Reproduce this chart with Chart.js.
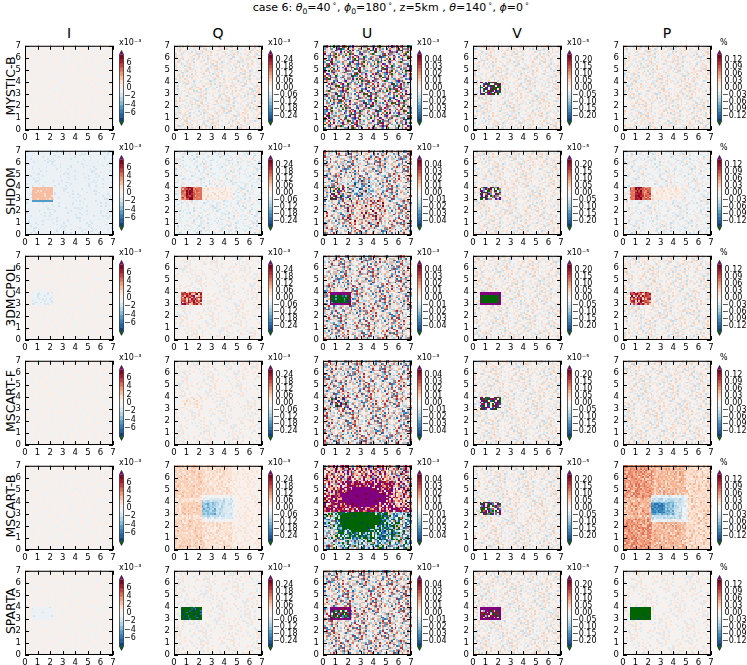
<!DOCTYPE html>
<html>
<head>
<meta charset="utf-8">
<script src="https://cdn.jsdelivr.net/npm/chart.js@4.4.0/dist/chart.umd.min.js"></script>
<style>
  body { margin: 0; background: #fff; width: 747px; height: 665px; overflow: hidden; position: relative; font-family: "DejaVu Sans", sans-serif; }
  canvas { position: absolute; }
  .lbl { position: absolute; white-space: nowrap; color: #000; }
  #title { left: 391px; top: 1px; font-size: 11px; transform: translateX(-50%); }
  #title sub, #title sup { font-size: 70%; line-height: 0; }
  .col { font-size: 14px; transform: translateX(-50%); top: 25px; }
  .row { font-size: 12.5px; transform: translate(-50%, -50%) rotate(-90deg); }
</style>
</head>
<body>
<div id="title" class="lbl">case 6: <i>θ</i><sub>0</sub>=40<sup>&thinsp;∘</sup>, <i>ϕ</i><sub>0</sub>=180<sup>&thinsp;∘</sup>, z=5km , <i>θ</i>=140<sup>&thinsp;∘</sup>, <i>ϕ</i>=0<sup>&thinsp;∘</sup></div>
<script>
// Titres
const rowNames = ['MYSTIC-B', 'SHDOM', '3DMCPOL', 'MSCART-F', 'MSCART-B', 'SPARTA'];
const colNames = ['I', 'Q', 'U', 'V', 'P'];

// Axes des panneaux (km)
const axisTicks = [0, 1, 2, 3, 4, 5, 6, 7];

// Barres de couleur : limite du corps, nombre de niveaux, graduations
const cbLimit = [8, 0.29, 0.048, 0.24, 0.145];
const cbLevels = [16, 20, 20, 20, 20];
const cbTicks = [
  [6, 4, 2, 0, -2, -4, -6],
  [0.24, 0.18, 0.12, 0.06, 0, -0.06, -0.12, -0.18, -0.24],
  [0.04, 0.03, 0.02, 0.01, 0, -0.01, -0.02, -0.03, -0.04],
  [0.2, 0.15, 0.1, 0.05, 0, -0.05, -0.1, -0.15, -0.2],
  [0.12, 0.09, 0.06, 0.03, 0, -0.03, -0.06, -0.09, -0.12]
];
const cbTickLabels = [
  ['6', '4', '2', '0', '−2', '−4', '−6'],
  ['0.24', '0.18', '0.12', '0.06', '0.00', '−0.06', '−0.12', '−0.18', '−0.24'],
  ['0.04', '0.03', '0.02', '0.01', '0.00', '−0.01', '−0.02', '−0.03', '−0.04'],
  ['0.20', '0.15', '0.10', '0.05', '0.00', '−0.05', '−0.10', '−0.15', '−0.20'],
  ['0.12', '0.09', '0.06', '0.03', '0.00', '−0.03', '−0.06', '−0.09', '−0.12']
];
const cbUnit = ['x10⁻³', 'x10⁻³', 'x10⁻³', 'x10⁻⁵', '%'];

// Texture de bruit lue à l'oeil (chiffres 0..8, 4 = zéro)
const noiseTile = [
  '4625341708452634', '3548246041627354', '6243157468340254', '2405634814365274',
  '5364027445183462', '4152648304726543', '7346251456304842', '2643580124754634',
  '4536214706423845', '6024435174862543', '3471652448053264', '5283464016742534',
  '1465307425846324', '4738264521460354', '2546043618275443', '6354128437460425'
];

// Fond de chaque panneau : [valeur, amplitude du bruit, décalage x, décalage y]
const fieldBase = [
  [[0, 0.6, 0, 0], [0, 0.06, 3, 5], [0, 0.05, 7, 2], [0, 0.055, 11, 9], [0, 0.03, 5, 13]],
  [[-0.8, 0.3, 2, 7], [-0.015, 0.045, 9, 1], [0, 0.036, 4, 11], [0, 0.055, 13, 3], [-0.005, 0.03, 1, 6]],
  [[0, 0.5, 6, 4], [0, 0.055, 12, 8], [0, 0.038, 8, 14], [0, 0.055, 2, 10], [0, 0.03, 10, 2]],
  [[0, 0.5, 14, 12], [0, 0.05, 5, 3], [0, 0.036, 1, 9], [0, 0.055, 7, 15], [0, 0.03, 15, 5]],
  [[0, 0.5, 3, 1], [0.045, 0.035, 10, 6], [0, 0.045, 6, 12], [0, 0.055, 12, 0], [0.045, 0.025, 4, 8]],
  [[0, 0.5, 9, 11], [0, 0.045, 0, 14], [0, 0.036, 13, 7], [0, 0.05, 3, 4], [0, 0.028, 11, 10]]
];

// Zones par panneau : [x0, x1, y0, y1, valeur, amplitude du bruit]
const fieldPatches = [
  [
    [], [], [],
    [[0.6, 2.3, 3.0, 4.0, 0, 0.8]],
    []
  ],
  [
    [[0.6, 2.3, 3.0, 4.0, 2.2, 0.3], [0.6, 2.3, 2.8, 3.0, -4.5, 0.3]],
    [[2.3, 4.8, 3.0, 4.0, 0.02, 0.04], [0.6, 2.3, 3.0, 4.0, 0.16, 0.05], [0.95, 1.55, 3.0, 4.0, 0.24, 0.05]],
    [[1.8, 5.0, 1.0, 3.0, 0.008, 0.036], [2.0, 4.0, 3.2, 4.6, -0.01, 0.036], [0.6, 2.3, 3.0, 4.0, 0, 0.075]],
    [[0.6, 2.3, 3.0, 4.0, 0, 0.5]],
    [[2.3, 4.8, 3.0, 4.0, 0.012, 0.02], [0.6, 2.3, 3.0, 4.0, 0.08, 0.025], [0.95, 1.55, 3.0, 4.0, 0.12, 0.025]]
  ],
  [
    [[0.6, 2.3, 3.0, 4.0, -0.8, 0.6]],
    [[0.6, 2.3, 3.0, 4.0, 0.18, 0.14]],
    [[0.6, 2.3, 3.0, 4.0, 0.07, 0.03], [0.75, 2.15, 3.15, 3.85, -0.065, 0.04]],
    [[0.6, 2.3, 3.0, 4.0, 0.35, 0.1], [0.75, 2.15, 3.15, 3.85, -0.35, 0.1]],
    [[0.6, 2.3, 3.0, 4.0, 0.09, 0.07]]
  ],
  [
    [],
    [[0.6, 2.3, 3.0, 4.0, 0.015, 0.05]],
    [[0.6, 2.3, 3.0, 4.0, 0, 0.06]],
    [[0.6, 2.3, 3.0, 4.0, 0, 0.8]],
    []
  ],
  [
    [],
    [[0, 2.4, 4.4, 7, 0.06, 0.035], [0, 2.4, 0, 2.6, 0.06, 0.035], [4.6, 7.0, 0, 7, 0.02, 0.035],
     [2.3, 5.0, 2.4, 4.6, -0.005, 0.03], [2.3, 4.7, 2.6, 4.4, -0.04, 0.035], [2.3, 4.1, 2.8, 4.2, -0.075, 0.035],
     [2.3, 3.4, 3.0, 4.0, -0.11, 0.035], [0.6, 2.3, 3.0, 4.0, 0.07, 0.03]],
    [[0, 7, 3.25, 7, 0.018, 0.045], [0, 7, 0, 3.25, -0.018, 0.045], [5.2, 7, 5.2, 7, 0.01, 0.045],
     [0, 1.6, 0, 2.0, -0.005, 0.045], [0, 1.3, 3.25, 4.6, 0.035, 0.035], [0, 7, 3.25, 3.6, 0.04, 0.04],
     [1.2, 5.6, 3.4, 5.7, 0.04, 0.045],
     [1.5, 5.0, 4.0, 4.8, 0.075, 0.03], [1.9, 4.5, 3.8, 5.1, 0.075, 0.03], [2.4, 3.9, 3.6, 5.3, 0.075, 0.03],
     [1.1, 5.2, 1.0, 3.25, -0.04, 0.045], [4.2, 5.8, 0.8, 2.2, -0.035, 0.045],
     [1.4, 4.6, 2.1, 2.9, -0.075, 0.03], [1.7, 4.2, 1.8, 3.1, -0.075, 0.03], [2.2, 3.7, 1.5, 3.25, -0.075, 0.03]],
    [[0.6, 2.3, 3.0, 4.0, 0, 0.6]],
    [[0, 2.4, 4.4, 7, 0.06, 0.025], [0, 2.4, 0, 2.6, 0.06, 0.025], [5.0, 7, 0, 7, 0.028, 0.025],
     [2.3, 5.2, 2.4, 4.6, -0.01, 0.025], [2.3, 4.7, 2.7, 4.3, -0.035, 0.02], [2.3, 4.0, 2.9, 4.1, -0.065, 0.02],
     [2.3, 3.3, 3.1, 3.9, -0.095, 0.02], [0.6, 2.3, 3.0, 4.0, 0.05, 0.025]]
  ],
  [
    [[0.6, 2.3, 3.0, 4.0, -0.6, 0.5]],
    [[0.6, 2.3, 3.0, 4.0, -0.32, 0.1]],
    [[0.6, 2.3, 3.0, 4.0, 0.07, 0.03], [0.75, 2.15, 3.15, 3.85, -0.03, 0.14]],
    [[0.6, 2.3, 3.0, 4.0, 0.35, 0.1], [0.75, 2.15, 3.15, 3.85, 0.2, 0.6]],
    [[0.6, 2.3, 3.0, 4.0, -0.2, 0.06]]
  ]
];

// Mise en page
const colLeft = [25, 174, 323, 473, 623];
const rowTop = [42, 147, 252, 357, 462, 567];
const panelSize = 88;
const gridN = 50;
const cellSize = 7 / gridN;
const overColor = '#800080';
const underColor = '#006400';
const rdbuR = ['#053061', '#2166ac', '#4393c3', '#92c5de', '#d1e5f0', '#f7f7f7',
               '#fddbc7', '#f4a582', '#d6604d', '#b2182b', '#67001f'];

function hex(h) { return [1, 3, 5].map(i => parseInt(h.substr(i, 2), 16)); }
function cmap(f) {
  const p = Math.max(0, Math.min(1, f)) * 10;
  const k = Math.min(9, Math.floor(p));
  const t = p - k;
  const a = hex(rdbuR[k]), b = hex(rdbuR[k + 1]);
  return 'rgb(' + a.map((v, i) => Math.round(v + (b[i] - v) * t)).join(',') + ')';
}
const palettes = cbLevels.map(n => Array.from({ length: n }, (_, k) => cmap((k + 0.5) / n)));

function colorFor(v, c) {
  const M = cbLimit[c];
  if (v > M) return overColor;
  if (v < -M) return underColor;
  const n = cbLevels[c];
  const k = Math.min(n - 1, Math.floor((v + M) / (2 * M) * n));
  return palettes[c][k];
}

function tileValue(i, j) {
  const row = noiseTile[(j + 5 * Math.floor(i / 16)) % 16];
  return (row.charCodeAt((i + 7 * Math.floor(j / 16)) % 16) - 52) / 4;
}

function buildField(r, c) {
  const [bg, amp, ox, oy] = fieldBase[r][c];
  const patches = fieldPatches[r][c];
  const vals = [];
  for (let j = 0; j < gridN; j++) {
    for (let i = 0; i < gridN; i++) {
      const cx = (i + 0.5) * cellSize, cy = (j + 0.5) * cellSize;
      const t = tileValue(i + ox, j + oy);
      let v = bg + amp * t;
      for (const p of patches) {
        if (cx >= p[0] && cx < p[1] && cy >= p[2] && cy < p[3]) v = p[4] + p[5] * t;
      }
      vals.push(v);
    }
  }
  return vals;
}

function panelPlugin(c, cells) {
  return {
    id: 'panel',
    beforeDatasetsDraw(chart) {
      const { ctx, scales: { x, y } } = chart;
      ctx.save();
      for (let j = 0; j < gridN; j++) {
        const py0 = y.getPixelForValue(j * cellSize), py1 = y.getPixelForValue((j + 1) * cellSize);
        for (let i = 0; i < gridN; i++) {
          const px0 = x.getPixelForValue(i * cellSize), px1 = x.getPixelForValue((i + 1) * cellSize);
          ctx.fillStyle = colorFor(cells[j * gridN + i], c);
          ctx.fillRect(Math.floor(px0), Math.floor(py1), Math.ceil(px1) - Math.floor(px0), Math.ceil(py0) - Math.floor(py1));
        }
      }
      ctx.restore();
    },
    afterDraw(chart) {
      const { ctx, chartArea: a, scales: { x, y, cb } } = chart;
      ctx.save();
      // cadre et graduations vers l'intérieur
      ctx.strokeStyle = '#000';
      ctx.lineWidth = 1;
      ctx.strokeRect(a.left + 0.5, a.top + 0.5, a.width - 1, a.height - 1);
      ctx.beginPath();
      axisTicks.forEach(v => {
        const px = Math.round(x.getPixelForValue(v)) + 0.5;
        ctx.moveTo(px, a.bottom); ctx.lineTo(px, a.bottom - 4);
        ctx.moveTo(px, a.top); ctx.lineTo(px, a.top + 4);
        const py = Math.round(y.getPixelForValue(v)) + 0.5;
        ctx.moveTo(a.left, py); ctx.lineTo(a.left + 4, py);
        ctx.moveTo(a.right, py); ctx.lineTo(a.right - 4, py);
      });
      ctx.stroke();
      // barre de couleur
      const M = cbLimit[c], n = cbLevels[c];
      const bx = a.right + 6.5, bw = 4;
      for (let k = 0; k < n; k++) {
        const top = cb.getPixelForValue(-M + (k + 1) * 2 * M / n);
        const bot = cb.getPixelForValue(-M + k * 2 * M / n);
        ctx.fillStyle = palettes[c][k];
        ctx.fillRect(bx, top, bw, bot - top + 0.5);
      }
      const yt = cb.getPixelForValue(M), yb = cb.getPixelForValue(-M);
      ctx.fillStyle = overColor;
      ctx.beginPath(); ctx.moveTo(bx, yt); ctx.lineTo(bx + bw / 2, yt - 4); ctx.lineTo(bx + bw, yt); ctx.closePath(); ctx.fill();
      ctx.fillStyle = underColor;
      ctx.beginPath(); ctx.moveTo(bx, yb); ctx.lineTo(bx + bw / 2, yb + 4); ctx.lineTo(bx + bw, yb); ctx.closePath(); ctx.fill();
      ctx.strokeStyle = '#222';
      ctx.lineWidth = 0.7;
      ctx.beginPath();
      ctx.moveTo(bx, yt); ctx.lineTo(bx + bw / 2, yt - 4); ctx.lineTo(bx + bw, yt);
      ctx.lineTo(bx + bw, yb); ctx.lineTo(bx + bw / 2, yb + 4); ctx.lineTo(bx, yb); ctx.closePath();
      ctx.stroke();
      // unité
      ctx.fillStyle = '#000';
      ctx.font = '8px "DejaVu Sans"';
      ctx.textAlign = 'left';
      ctx.textBaseline = 'alphabetic';
      ctx.fillText(cbUnit[c], a.right + (c === 4 ? 9 : 6), a.top - 1);
      ctx.restore();
    }
  };
}

const tickFont = { family: 'DejaVu Sans', size: 8.5 };
const cbFont = { family: 'DejaVu Sans', size: 8 };

function makePanel(r, c) {
  const canvas = document.createElement('canvas');
  canvas.width = 154; canvas.height = 116;
  canvas.style.left = (colLeft[c] - 22) + 'px';
  canvas.style.top = (rowTop[r] - 12) + 'px';
  document.body.appendChild(canvas);
  const A = cbLimit[c] * 44 / 35;
  const cells = buildField(r, c);
  new Chart(canvas, {
    type: 'scatter',
    data: { datasets: [{ data: [] }] },
    options: {
      responsive: false,
      animation: false,
      events: [],
      layout: { padding: { top: 12, left: 0, right: 0, bottom: 0 } },
      plugins: { legend: { display: false }, tooltip: { enabled: false } },
      scales: {
        x: {
          type: 'linear', position: 'bottom', min: 0, max: 7,
          afterBuildTicks: s => { s.ticks = axisTicks.map(v => ({ value: v })); },
          afterFit: s => { s.height = 16; },
          grid: { display: false, drawTicks: false }, border: { display: false },
          ticks: { font: tickFont, color: '#000', padding: 3, autoSkip: false, maxRotation: 0 }
        },
        y: {
          type: 'linear', position: 'left', min: 0, max: 7,
          afterBuildTicks: s => { s.ticks = axisTicks.map(v => ({ value: v })); },
          afterFit: s => { s.width = 22; },
          grid: { display: false, drawTicks: false }, border: { display: false },
          ticks: { font: tickFont, color: '#000', padding: 4, autoSkip: false }
        },
        cb: {
          type: 'linear', position: 'right', min: -A, max: A,
          afterBuildTicks: s => { s.ticks = cbTicks[c].slice().reverse().map(v => ({ value: v })); },
          afterFit: s => { s.width = 44; },
          grid: { display: false, drawTicks: false }, border: { display: false },
          ticks: {
            font: cbFont, color: '#000', padding: 11, autoSkip: false,
            callback: v => {
              const k = cbTicks[c].findIndex(t => Math.abs(t - v) < 1e-9);
              if (k < 0) return '';
              const s = cbTickLabels[c][k];
              return s.startsWith('−') ? s : '\u2008' + s;
            }
          }
        }
      }
    },
    plugins: [panelPlugin(c, cells)]
  });
}

colNames.forEach((name, c) => {
  const d = document.createElement('div');
  d.className = 'lbl col';
  d.textContent = name;
  d.style.left = (colLeft[c] + panelSize / 2) + 'px';
  document.body.appendChild(d);
});
rowNames.forEach((name, r) => {
  const d = document.createElement('div');
  d.className = 'lbl row';
  d.textContent = name;
  d.style.left = '10px';
  d.style.top = (rowTop[r] + panelSize / 2) + 'px';
  document.body.appendChild(d);
});
for (let r = 0; r < rowNames.length; r++) {
  for (let c = 0; c < colNames.length; c++) makePanel(r, c);
}
</script>
</body>
</html>
